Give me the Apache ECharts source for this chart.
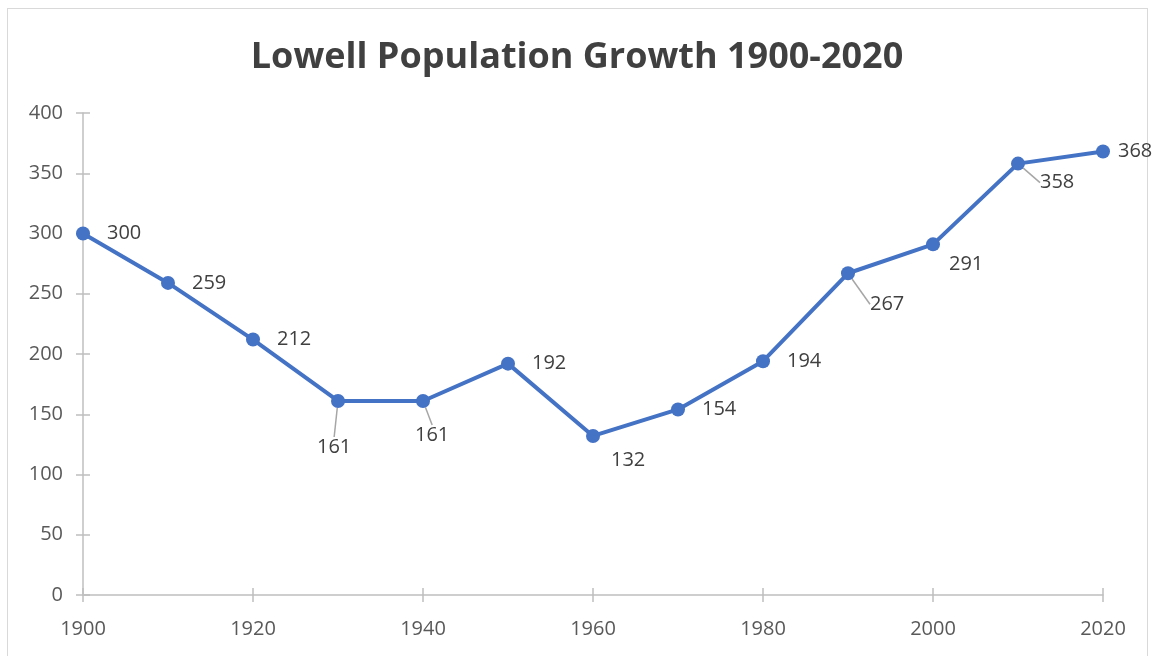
<!DOCTYPE html>
<html><head><meta charset="utf-8">
<script src="https://cdn.jsdelivr.net/npm/echarts@6/dist/echarts.min.js"></script>
<style>
html,body{margin:0;padding:0;background:#fff;}
#frame{position:absolute;left:7px;top:8px;width:1141px;height:660px;border:1px solid #d9d9d9;box-sizing:border-box;}
#c{position:absolute;left:0;top:0;width:1154px;height:656px;}
</style></head>
<body><div id="frame"></div><div id="c"></div>
<script>
const years = [1900,1910,1920,1930,1940,1950,1960,1970,1980,1990,2000,2010,2020];
const population = [300,259,212,161,161,192,132,154,194,267,291,358,368];
const yTicks = [0,50,100,150,200,250,300,350,400];
const xTicks = [1900,1920,1940,1960,1980,2000,2020];

// label offsets (style only)
const labelShift = {3:[-45,46],4:[-32,34],6:[-6,24],9:[-2,31],10:[-8,20],11:[-2,19],12:[-9,0]};
const leader = {3:true,4:true,9:true,11:true};

const chart = echarts.init(document.getElementById('c'));
const font = "'Open Sans', 'Noto Sans', sans-serif";
chart.setOption({
  animation:false,
  title:{text:'Lowell Population Growth 1900-2020',left:'center',top:35,
    textStyle:{fontFamily:font,fontSize:36,fontWeight:'bold',color:'#404040'}},
  grid:{left:83,right:51,top:113,bottom:61},
  xAxis:[{type:'value',min:1900,max:2020,interval:20,
    axisLine:{lineStyle:{color:'#bfbfbf',width:1.5}},
    axisTick:{show:true,length:7,lineStyle:{color:'#bfbfbf',width:1.5}},
    splitLine:{show:false},
    axisLabel:{margin:24,fontFamily:font,fontSize:20,color:'#595959',formatter:v=>String(v)}},
    {type:'value',min:1900,max:2020,interval:20,position:'bottom',
    axisLine:{show:false},axisTick:{show:true,inside:true,length:7,lineStyle:{color:'#bfbfbf',width:1.5}},
    axisLabel:{show:false},splitLine:{show:false}}],
  yAxis:[{type:'value',min:0,max:400,interval:50,
    axisLine:{show:true,lineStyle:{color:'#bfbfbf',width:1.5}},
    axisTick:{show:true,length:7,lineStyle:{color:'#bfbfbf',width:1.5}},
    splitLine:{show:false},
    axisLabel:{margin:20,fontFamily:font,fontSize:20,color:'#595959'}},
    {type:'value',min:0,max:400,interval:50,position:'left',
    axisLine:{show:false},axisTick:{show:true,inside:true,length:7,lineStyle:{color:'#bfbfbf',width:1.5}},
    axisLabel:{show:false},splitLine:{show:false}}],
  series:[{type:'line',
    data:years.map((y,i)=>({value:[y,population[i]],labelLine:{show:!!leader[i]}})),
    symbol:'circle',symbolSize:14,
    lineStyle:{color:'#4472C4',width:4},
    itemStyle:{color:'#4472C4'},
    label:{show:true,position:'right',distance:17,fontFamily:font,fontSize:20,color:'#404040'},
    labelLine:{show:false,lineStyle:{color:'#a6a6a6',width:1.5}},
    labelLayout:function(p){
      const s = labelShift[p.dataIndex];
      if(!s) return {};
      return {dx:s[0],dy:s[1]};
    }
  }]
});
</script></body></html>
